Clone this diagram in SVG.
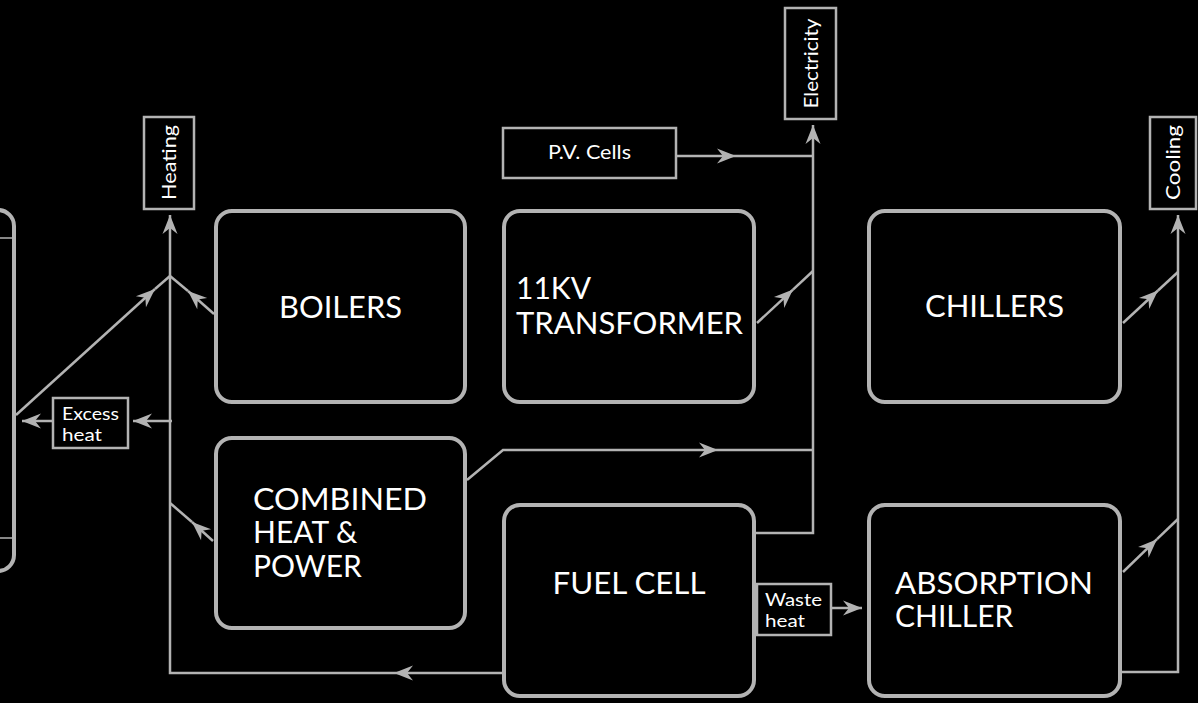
<svg xmlns="http://www.w3.org/2000/svg" width="1198" height="703" viewBox="0 0 1198 703">
<style>
.bg{fill:#000}
.node{fill:#000;stroke:#b3b3b3;stroke-width:4}
.tag{fill:#000;stroke:#b3b3b3;stroke-width:2.5}
.big{fill:#fff;font-family:Lato,"Open Sans","Liberation Sans",sans-serif;font-size:30px}
.small{fill:#fff;font-family:Lato,"Open Sans","Liberation Sans",sans-serif;font-size:19px}
.tiny{fill:#fff;font-family:Lato,"Open Sans","Liberation Sans",sans-serif;font-size:17.5px}
.c{text-anchor:middle}
.wire{fill:none;stroke:#b3b3b3;stroke-width:2.5}
.thin{fill:none;stroke:#b3b3b3;stroke-width:1.5}
</style>
<defs>
<marker id="ah" viewBox="-20 -9 22 18" refX="0" refY="0" markerWidth="22" markerHeight="18" markerUnits="userSpaceOnUse" orient="auto">
<path d="M0,0 L-19,-7.5 L-13,0 L-19,7.5 Z" fill="#b3b3b3"/>
</marker>
</defs>
<rect class="bg" x="0" y="0" width="1198" height="703"/>

<g id="connectors">
<path class="wire" d="M16,415 L155,289" marker-end="url(#ah)"/>
<path class="wire" d="M155,289 L170,276"/>
<path class="wire" d="M214,314 L188,291" marker-end="url(#ah)"/>
<path class="wire" d="M188,291 L170,276"/>
<path class="wire" d="M213,541 L192,522" marker-end="url(#ah)"/>
<path class="wire" d="M192,522 L170,503"/>
<path class="wire" d="M502,673 L394,673" marker-end="url(#ah)"/>
<path class="wire" d="M394,673 L170,673 L170,215" marker-end="url(#ah)"/>
<path class="wire" d="M172,421 L133,421" marker-end="url(#ah)"/>
<path class="wire" d="M53,421 L22,421" marker-end="url(#ah)"/>
<path class="wire" d="M677,156 L736,156" marker-end="url(#ah)"/>
<path class="wire" d="M736,156 L813,156"/>
<path class="wire" d="M756,533 L813,533 L813,125" marker-end="url(#ah)"/>
<path class="wire" d="M467,480 L503,450 L718,450" marker-end="url(#ah)"/>
<path class="wire" d="M718,450 L813,450"/>
<path class="wire" d="M757,323 L793,289.6" marker-end="url(#ah)"/>
<path class="wire" d="M793,289.6 L813,271"/>
<path class="wire" d="M1123,323 L1158,290.5" marker-end="url(#ah)"/>
<path class="wire" d="M1158,290.5 L1178,272"/>
<path class="wire" d="M1123,572 L1157,539.2" marker-end="url(#ah)"/>
<path class="wire" d="M1157,539.2 L1178,519"/>
<path class="wire" d="M1122,672 L1178,672 L1178,215" marker-end="url(#ah)"/>
<path class="wire" d="M831,608 L862,608" marker-end="url(#ah)"/>
</g>

<g id="left-node">
<rect class="node" x="-240" y="210" width="254" height="361" rx="16"/>
<path class="thin" d="M0,238 L13,238 M0,538 L13,538"/>
</g>

<g id="heating">
<rect class="tag" x="144" y="117" width="50" height="92"/>
<text class="small c" transform="translate(175.5,162.5) rotate(-90)" textLength="75" lengthAdjust="spacingAndGlyphs">Heating</text>
</g>

<g id="excess-heat">
<rect class="tag" x="53" y="398" width="75" height="50"/>
<text class="tiny" x="62" y="420" textLength="57" lengthAdjust="spacingAndGlyphs">Excess</text>
<text class="tiny" x="62" y="441" textLength="40" lengthAdjust="spacingAndGlyphs">heat</text>
</g>

<g id="boilers">
<rect class="node" x="216" y="211" width="249" height="191" rx="16"/>
<text class="big c" x="340.5" y="318" textLength="123" lengthAdjust="spacingAndGlyphs">BOILERS</text>
</g>

<g id="transformer">
<rect class="node" x="504" y="211" width="250" height="191" rx="16"/>
<text class="big" x="516" y="299">11KV</text>
<text class="big" x="516" y="334" textLength="227" lengthAdjust="spacingAndGlyphs">TRANSFORMER</text>
</g>

<g id="chillers">
<rect class="node" x="869" y="211" width="251" height="191" rx="16"/>
<text class="big c" x="994.5" y="317" textLength="139" lengthAdjust="spacingAndGlyphs">CHILLERS</text>
</g>

<g id="chp">
<rect class="node" x="216" y="438" width="249" height="190" rx="16"/>
<text class="big" x="253" y="510" textLength="174" lengthAdjust="spacingAndGlyphs">COMBINED</text>
<text class="big" x="253" y="543">HEAT &amp;</text>
<text class="big" x="253" y="577">POWER</text>
</g>

<g id="fuel-cell">
<rect class="node" x="504" y="505" width="250" height="191" rx="16"/>
<text class="big c" x="629" y="594" textLength="153" lengthAdjust="spacingAndGlyphs">FUEL CELL</text>
</g>

<g id="waste-heat">
<rect class="tag" x="757" y="584" width="74" height="51"/>
<text class="tiny" x="765" y="606" textLength="57" lengthAdjust="spacingAndGlyphs">Waste</text>
<text class="tiny" x="765" y="627" textLength="40" lengthAdjust="spacingAndGlyphs">heat</text>
</g>

<g id="absorption-chiller">
<rect class="node" x="869" y="505" width="251" height="191" rx="16"/>
<text class="big" x="895" y="594" textLength="198" lengthAdjust="spacingAndGlyphs">ABSORPTION</text>
<text class="big" x="895" y="627">CHILLER</text>
</g>

<g id="pv-cells">
<rect class="tag" x="503" y="128" width="173" height="50"/>
<text class="small c" x="589.5" y="159" textLength="83" lengthAdjust="spacingAndGlyphs">P.V. Cells</text>
</g>

<g id="electricity">
<rect class="tag" x="785" y="8" width="51" height="111"/>
<text class="small c" transform="translate(818,63.5) rotate(-90)" textLength="90" lengthAdjust="spacingAndGlyphs">Electricity</text>
</g>

<g id="cooling">
<rect class="tag" x="1150" y="117" width="46" height="92"/>
<text class="small c" transform="translate(1180,162.5) rotate(-90)" textLength="75" lengthAdjust="spacingAndGlyphs">Cooling</text>
</g>
</svg>
